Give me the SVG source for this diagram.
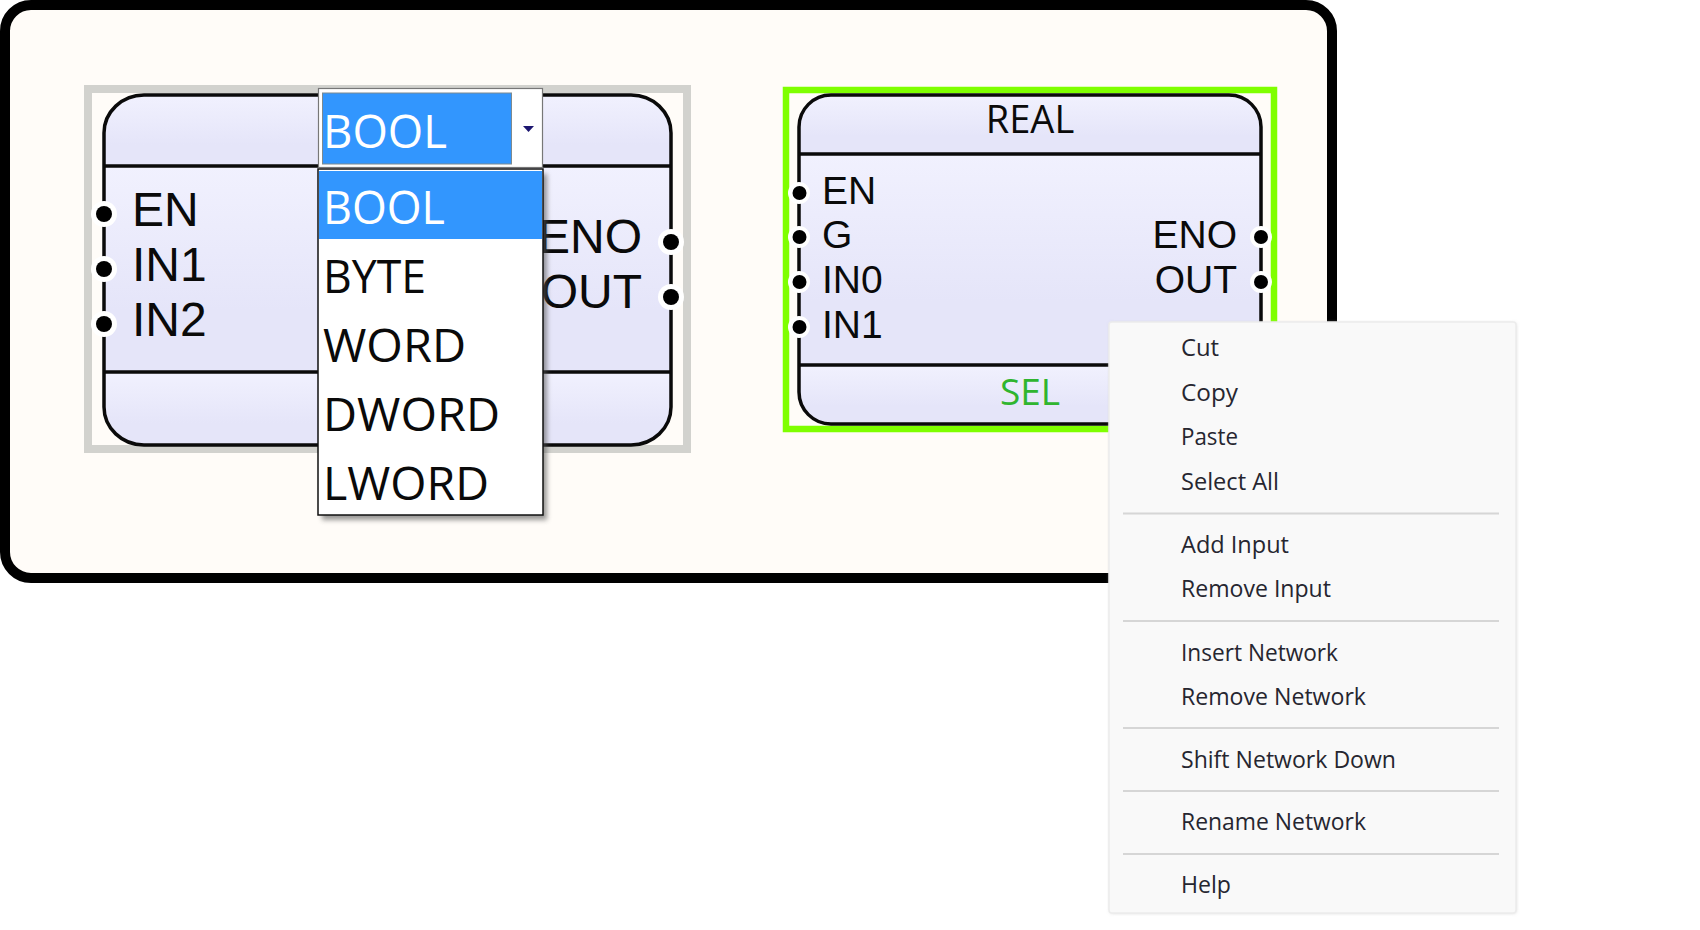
<svg xmlns="http://www.w3.org/2000/svg" width="1700" height="930" viewBox="0 0 1700 930">
<style>
text{font-family:"Open Sans","Noto Sans","Liberation Sans",sans-serif;fill:#0a0a0a}
.l{font-size:48px;font-family:"Liberation Sans",Arial,sans-serif}
.r{font-size:39px;font-family:"Liberation Sans",Arial,sans-serif}
.t{font-size:38px}
.d{font-size:45px}
.m{font-size:24px;fill:#262630}
.w{fill:#fff}
.e{text-anchor:end}
.c{text-anchor:middle}
.s{fill:url(#g)}
.o{fill:none;stroke:#0a0a0a;stroke-width:3.5}
.h{fill:#fff}
.p{fill:#000}
.sep{stroke:#d6d6d6;stroke-width:2}
</style>
<defs>
<linearGradient id="g" x1="0" y1="0" x2="0" y2="1"><stop offset="0" stop-color="#f1f1fe"/><stop offset="0.7" stop-color="#e5e5f9"/><stop offset="1" stop-color="#e5e5f9"/></linearGradient>
<filter id="sh" x="-10%" y="-10%" width="120%" height="120%"><feGaussianBlur stdDeviation="2.5"/></filter>
<filter id="sh2" x="-5%" y="-5%" width="110%" height="110%"><feGaussianBlur stdDeviation="1.500"/></filter>
</defs>
<rect width="1700" height="930" fill="#fff"/>
<rect id="frame" x="5" y="5" width="1327" height="573" rx="26" ry="26" fill="#fffcf8" stroke="#000" stroke-width="10"/>
<g id="block-left">
<rect x="88" y="89" width="599" height="360" fill="#fffcf8" stroke="#d2d2ce" stroke-width="8"/>
<path class="s" d="M104 166V133A40 38 0 0 1 144 95H631A40 38 0 0 1 671 133V166Z"/>
<path class="s" d="M104 166H671V372H104Z"/>
<path class="s" d="M104 372H671V407A40 38 0 0 1 631 445H144A40 38 0 0 1 104 407Z"/>
<rect class="o" x="104" y="95" width="567" height="350" rx="40" ry="38"/>
<path class="o" d="M104 166H671M104 372H671"/>
<circle class="h" cx="104" cy="214" r="13"/><circle class="h" cx="104" cy="269" r="13"/><circle class="h" cx="104" cy="324" r="13"/>
<circle class="h" cx="671" cy="242" r="13"/><circle class="h" cx="671" cy="297" r="13"/>
<circle class="p" cx="104" cy="214" r="8"/><circle class="p" cx="104" cy="269" r="8"/><circle class="p" cx="104" cy="324" r="8"/>
<circle class="p" cx="671" cy="242" r="8"/><circle class="p" cx="671" cy="297" r="8"/>
<text class="l" x="132" y="226">EN</text>
<text class="l" x="132" y="281">IN1</text>
<text class="l" x="132" y="336">IN2</text>
<text class="l e" x="642" y="253">ENO</text>
<text class="l e" x="642" y="308">OUT</text>
</g>
<g id="block-right">
<rect x="786" y="90" width="488" height="339" fill="#fffcf8" stroke="#7fff00" stroke-width="6.5"/>
<path class="s" d="M799 154V127A32 32 0 0 1 831 95H1229A32 32 0 0 1 1261 127V154Z"/>
<path class="s" d="M799 154H1261V365H799Z"/>
<path class="s" d="M799 365H1261V392A32 32 0 0 1 1229 424H831A32 32 0 0 1 799 392Z"/>
<rect class="o" x="799" y="95" width="462" height="329" rx="32" ry="32"/>
<path class="o" d="M799 154H1261M799 365H1261"/>
<circle class="h" cx="799" cy="193" r="11"/><circle class="h" cx="799" cy="237" r="11"/><circle class="h" cx="799" cy="282" r="11"/><circle class="h" cx="799" cy="327" r="11"/>
<circle class="h" cx="1261" cy="237" r="11"/><circle class="h" cx="1261" cy="282" r="11"/>
<circle class="p" cx="799.500" cy="193" r="7"/><circle class="p" cx="799.500" cy="237" r="7"/><circle class="p" cx="799.500" cy="282" r="7"/><circle class="p" cx="799.500" cy="327" r="7"/>
<circle class="p" cx="1261" cy="237" r="7"/><circle class="p" cx="1261" cy="282" r="7"/>
<text class="t c" x="1030" y="133">REAL</text>
<text class="r" x="822" y="204">EN</text>
<text class="r" x="822" y="248">G</text>
<text class="r" x="822" y="293">IN0</text>
<text class="r" x="822" y="338">IN1</text>
<text class="r e" x="1237" y="248">ENO</text>
<text class="r e" x="1237" y="293">OUT</text>
<text class="t c" x="1030" y="405" style="fill:#2fb52f;font-size:37px">SEL</text>
</g>
<g id="dropdown">
<rect x="322" y="174" width="225" height="346" fill="#555" opacity="0.6" filter="url(#sh)"/>
<rect x="318.500" y="88.500" width="224" height="79" fill="#fff" stroke="#777" stroke-width="1.2"/>
<rect x="322.500" y="93" width="189" height="71" fill="#3296fe" stroke="#7d8a90" stroke-width="1"/>
<path d="M523 126H534L528.500 132Z" fill="#1c1670"/>
<text class="d w" x="323" y="148" textLength="124" lengthAdjust="spacingAndGlyphs">BOOL</text>
<rect x="318" y="169" width="225" height="346" fill="#fff" stroke="#111" stroke-width="1.5"/>
<rect x="319" y="171" width="223" height="68" fill="#3296fe"/>
<text class="d w" x="323" y="224" textLength="122" lengthAdjust="spacingAndGlyphs">BOOL</text>
<text class="d" x="323" y="293" textLength="103" lengthAdjust="spacingAndGlyphs">BYTE</text>
<text class="d" x="323" y="362" textLength="143" lengthAdjust="spacingAndGlyphs">WORD</text>
<text class="d" x="323" y="431" textLength="177" lengthAdjust="spacingAndGlyphs">DWORD</text>
<text class="d" x="323" y="500" textLength="166" lengthAdjust="spacingAndGlyphs">LWORD</text>
</g>
<g id="context-menu">
<rect x="1109" y="322" width="408" height="592" rx="4" fill="#ccc" opacity="0.5" filter="url(#sh2)"/>
<rect x="1109" y="322" width="407" height="591" rx="3" fill="#f9f9f9" stroke="#ececec" stroke-width="1.500"/>
<text class="m" x="1181" y="356" textLength="38" lengthAdjust="spacingAndGlyphs">Cut</text>
<text class="m" x="1181" y="401" textLength="57" lengthAdjust="spacingAndGlyphs">Copy</text>
<text class="m" x="1181" y="445" textLength="57" lengthAdjust="spacingAndGlyphs">Paste</text>
<text class="m" x="1181" y="490" textLength="98" lengthAdjust="spacingAndGlyphs">Select All</text>
<path class="sep" d="M1123 513.500H1499"/>
<text class="m" x="1181" y="553" textLength="108" lengthAdjust="spacingAndGlyphs">Add Input</text>
<text class="m" x="1181" y="597" textLength="150" lengthAdjust="spacingAndGlyphs">Remove Input</text>
<path class="sep" d="M1123 621H1499"/>
<text class="m" x="1181" y="661" textLength="157" lengthAdjust="spacingAndGlyphs">Insert Network</text>
<text class="m" x="1181" y="705" textLength="185" lengthAdjust="spacingAndGlyphs">Remove Network</text>
<path class="sep" d="M1123 728H1499"/>
<text class="m" x="1181" y="768" textLength="215" lengthAdjust="spacingAndGlyphs">Shift Network Down</text>
<path class="sep" d="M1123 791H1499"/>
<text class="m" x="1181" y="830" textLength="185" lengthAdjust="spacingAndGlyphs">Rename Network</text>
<path class="sep" d="M1123 854H1499"/>
<text class="m" x="1181" y="893" textLength="50" lengthAdjust="spacingAndGlyphs">Help</text>
</g>
</svg>
